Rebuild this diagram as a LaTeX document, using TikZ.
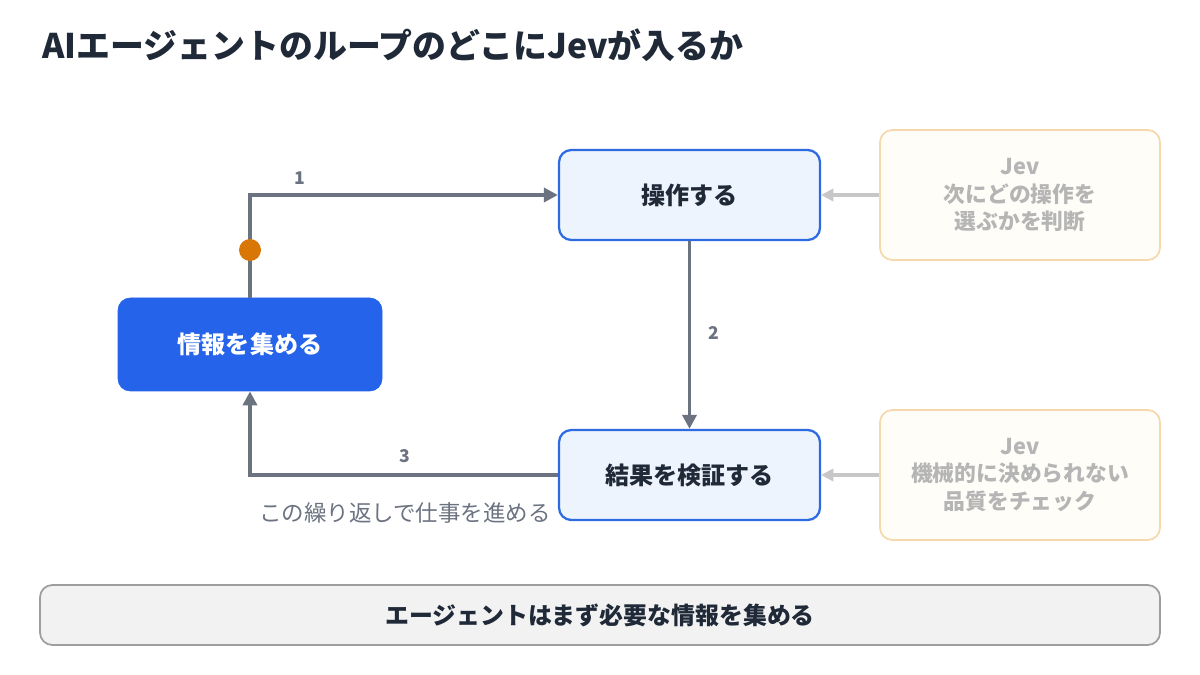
\documentclass[tikz,border=0pt]{standalone}
\usepackage{fontspec}
\setmainfont{Noto Sans CJK JP}
\usetikzlibrary{arrows.meta}
\definecolor{blueB}{HTML}{2F6BE0}
\definecolor{blueF}{HTML}{EEF4FD}
\definecolor{blueS}{HTML}{2563EB}
\definecolor{arr}{HTML}{6B7280}
\definecolor{jevB}{HTML}{F5D9AC}
\definecolor{jevF}{HTML}{FFFDF8}
\definecolor{jevT}{HTML}{B5B5B5}
\definecolor{txt}{HTML}{1F2937}
\definecolor{dot}{HTML}{D97706}
\begin{document}
\begin{tikzpicture}[x=0.02cm,y=-0.02cm,
  stepbox/.style={draw=blueB,fill=blueF,line width=1.3pt,rounded corners=7pt,minimum width=261*0.02cm,minimum height=90*0.02cm,font=\fontsize{13.7}{16}\selectfont\bfseries,text=txt},
  jev/.style={draw=jevB,fill=jevF,line width=1pt,rounded corners=7pt,minimum width=280*0.02cm,minimum height=130*0.02cm,font=\fontsize{12.4}{15.5}\selectfont\bfseries,text=jevT,align=center},
  flow/.style={draw=arr,line width=2pt,-{Triangle[length=8pt,width=8pt]}},
  hint/.style={draw=black!22,line width=2pt,-{Triangle[length=7pt,width=7pt]}},
  lbl/.style={font=\fontsize{10}{11}\selectfont\bfseries,text=arr}]
\useasboundingbox (0,0) rectangle (1200,675);
\node[anchor=west,font=\fontsize{19.3}{22}\selectfont\bfseries,text=txt] (title) at (36,45) {AIエージェントのループのどこにJevが入るか};
\node[stepbox] (op) at (689.5,195) {操作する};
\node[stepbox] (ver) at (689.5,475) {結果を検証する};
\node[draw=blueS,fill=blueS,rounded corners=7pt,minimum width=264*0.02cm,minimum height=93*0.02cm,font=\fontsize{13.7}{16}\selectfont\bfseries,text=white] (info) at (250,344.5) {情報を集める};
\node[jev] (j1) at (1020,195) {Jev\\次にどの操作を\\選ぶかを判断};
\node[jev] (j2) at (1020,475) {Jev\\機械的に決められない\\品質をチェック};
\node[draw=black!38,fill=black!5,line width=1pt,rounded corners=7pt,minimum width=1120*0.02cm,minimum height=60*0.02cm,font=\fontsize{13.6}{16}\selectfont\bfseries,text=txt] (bar) at (600,615) {エージェントはまず必要な情報を集める};
\coordinate (c1) at (250,195);
\coordinate (c3) at (250,475);
\draw[flow] (info.north) -- (c1) -- (op.west);
\fill[dot] (250,250) circle (11*0.02cm);
\draw[flow] (op.south) -- (ver.north);
\draw[flow] (ver.west) -- (c3) -- (info.south);
\draw[hint] (j1.west) -- (op.east);
\draw[hint] (j2.west) -- (ver.east);
\node[lbl] (l1) at (300,178) {1};
\node[lbl] (l2) at (714,333) {2};
\node[lbl] (l3) at (405,456) {3};
\node[font=\fontsize{12.8}{14}\selectfont,text=arr] (note) at (405,513) {この繰り返しで仕事を進める};
\end{tikzpicture}
\end{document}
